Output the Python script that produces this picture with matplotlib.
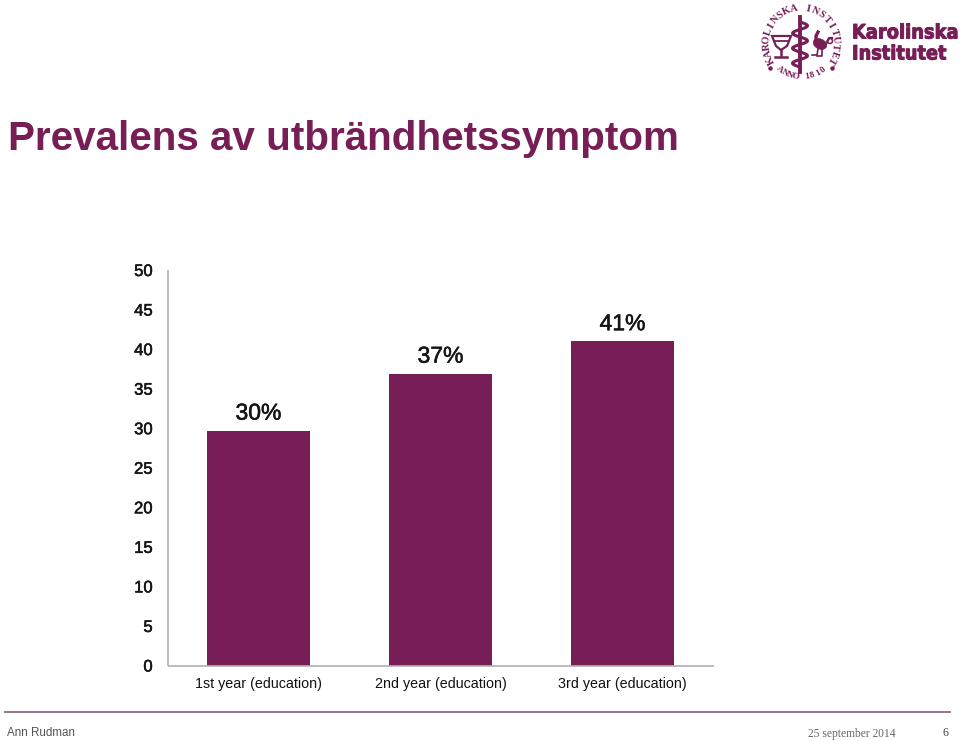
import numpy as np
import matplotlib
matplotlib.use("Agg")
import matplotlib.pyplot as plt
import matplotlib.patheffects as pe
from matplotlib.patches import Ellipse, Polygon

categories = ["1st year (education)", "2nd year (education)", "3rd year (education)"]
values = [29.7, 36.9, 41.0]
bar_labels = ["30%", "37%", "41%"]
yticks = [0, 5, 10, 15, 20, 25, 30, 35, 40, 45, 50]

PURPLE = "#761e55"
W, H = 960, 741

plt.rcParams["font.family"] = ["Liberation Sans", "DejaVu Sans"]

fig = plt.figure(figsize=(W / 100, H / 100), dpi=100, facecolor="white")

# chart axes, placed in pixels from the reference
left, right, top, bottom = 167.5, 713.5, 270, 665.5
ax = fig.add_axes([left / W, 1 - bottom / H, (right - left) / W, (bottom - top) / H])
x = np.arange(len(categories))
ax.bar(x, values, width=0.567, color=PURPLE)
ax.set_xlim(-0.5, 2.5)
ax.set_ylim(0, 50)
ax.set_yticks(yticks)
ax.set_xticks(x, categories)
ax.tick_params(axis="both", length=0)
ax.tick_params(axis="x", labelsize=10.3, pad=8, labelcolor="#111111")
ax.tick_params(axis="y", labelsize=12, pad=10.7, labelcolor="#151515")
for t in ax.get_yticklabels():
    t.set_path_effects([pe.withStroke(linewidth=0.4, foreground="#151515")])
for s in ["top", "right"]:
    ax.spines[s].set_visible(False)
for s in ["left", "bottom"]:
    ax.spines[s].set_color("#b0b0b0")
    ax.spines[s].set_linewidth(1.2)
    ax.spines[s].set_capstyle("butt")
for xi, v, lab in zip(x, values, bar_labels):
    t = ax.annotate(lab, (xi, v), xytext=(0, 4.3), textcoords="offset points", ha="center",
                    va="bottom", fontsize=16.5, color="#151515")
    t.set_path_effects([pe.withStroke(linewidth=0.4, foreground="#151515")])

# overlay in pixel coordinates for title, footer and logo
ov = fig.add_axes([0, 0, 1, 1], facecolor="none")
ov.set_xlim(0, W)
ov.set_ylim(H, 0)
ov.axis("off")

ov.text(8, 139.5, "Prevalens av utbrändhetssymptom", fontsize=29.1, fontweight="bold",
        color=PURPLE, va="center", ha="left")

ov.plot([5, 950], [711.5, 711.5], color="#8f6a84", lw=1.3)
ov.text(7, 733, "Ann Rudman", fontsize=8.4, color="#555555", va="center")
ov.text(808, 733.5, "25 september 2014", fontsize=8.3, color="#666666", va="center",
        family="Liberation Serif")
ov.text(945, 733.5, "6", fontsize=8.6, color="#444444", va="center", ha="center",
        family="Liberation Serif")

# logo wordmark
word_fx = [pe.withStroke(linewidth=0.7, foreground=PURPLE)]
ov.text(852, 33, "Karolinska", fontsize=14.3, fontweight="bold", color=PURPLE, va="center",
        family="DejaVu Sans", fontstretch="condensed", path_effects=word_fx)
ov.text(852, 54, "Institutet", fontsize=14.2, fontweight="bold", color=PURPLE, va="center",
        family="DejaVu Sans", fontstretch="condensed", path_effects=word_fx)

# logo seal: ring of letters
cx, cy, r = 801, 43, 34.5


def ring(text, start, end, radius, size, flip=False):
    angles = np.linspace(start, end, len(text))
    for ch, a in zip(text, angles):
        px = cx + radius * np.cos(np.radians(a))
        py = cy - radius * np.sin(np.radians(a))
        rot = a + 90 if flip else a - 90
        ov.text(px, py, ch, fontsize=size, color=PURPLE, ha="center", va="center",
                rotation=rot, rotation_mode="anchor", family="Liberation Serif",
                fontweight="bold")


ring("KAROLINSKA INSTITUTET", 210, -30, r, 7.4)
ring("ANNO 1810", 231, 309, r, 6.6, flip=True)
ov.plot([cx - 31, cx + 31], [cy + 25, cy + 25], ls="none", marker="o", ms=2.2, color=PURPLE)

# rod and snake
ov.plot([cx - 1, cx - 1], [17, 72], color=PURPLE, lw=2.8)
sy = np.linspace(22, 67, 80)
ov.plot(cx - 1 + 7.5 * np.sin((sy - 22) / 45 * 3 * 2 * np.pi), sy, color=PURPLE, lw=2.2)
# cup
ov.add_patch(Polygon([(cx - 29, 36), (cx - 10, 36), (cx - 14, 46), (cx - 20, 50), (cx - 25, 46)],
                     fc="none", ec=PURPLE, lw=1.6))
ov.plot([cx - 27, cx - 12], [41, 41], color=PURPLE, lw=1.3)
ov.plot([cx - 20, cx - 20], [50, 55], color=PURPLE, lw=1.8)
ov.plot([cx - 26, cx - 14], [56.5, 56.5], color=PURPLE, lw=1.8)
# rooster
ov.add_patch(Ellipse((cx + 19, 44), 14, 10, angle=25, fc=PURPLE, ec=PURPLE, lw=0.5))
ov.plot([cx + 15, cx + 15, cx + 17], [42, 36, 32], color=PURPLE, lw=2.4)
ov.plot([cx + 25, cx + 28, cx + 31], [44, 38, 38], color=PURPLE, lw=1.6)
ov.add_patch(Ellipse((cx + 29, 41), 5, 5, fc="none", ec=PURPLE, lw=1.1))
ov.plot([cx + 17, cx + 16, cx + 11], [49, 55, 55], color=PURPLE, lw=1.2)
ov.plot([cx + 21, cx + 21, cx + 16], [49, 56, 56], color=PURPLE, lw=1.2)

fig.savefig("out.png", dpi=100)
